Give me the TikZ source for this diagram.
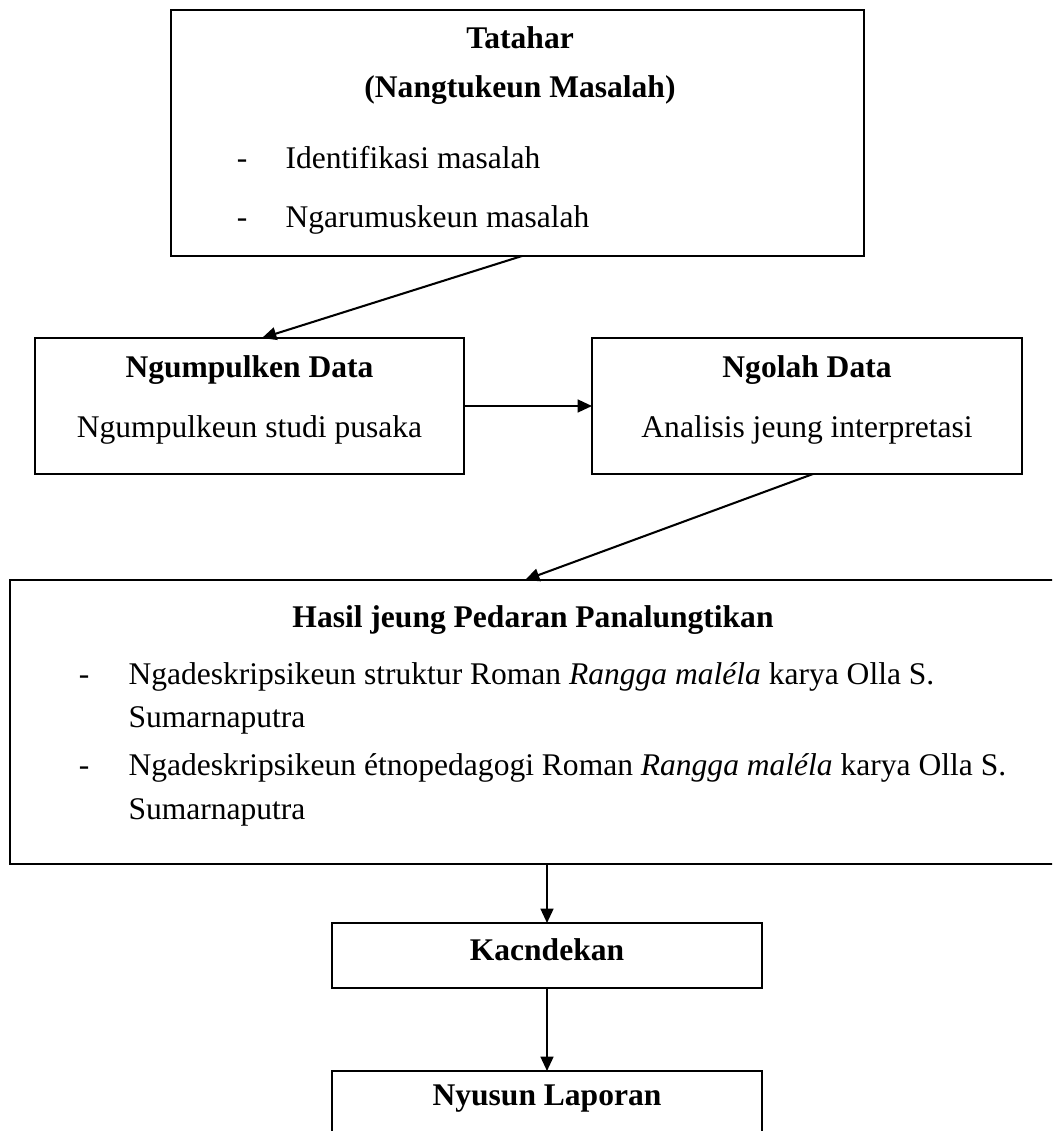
\documentclass[tikz,border=0pt]{standalone}
\usepackage{fontspec}
\setmainfont{Liberation Serif}
\usetikzlibrary{arrows.meta}
\newcommand{\px}{0.39pt}
\tikzset{
  box/.style={draw, line width=0.6pt, inner sep=0pt, outer sep=0pt},
  txt/.style={inner sep=0pt, anchor=mid, font=\fontsize{12.3pt}{14pt}\selectfont},
  ltxt/.style={txt, anchor=mid west},
  arr/.style={-{Triangle[length=5.6pt,width=5pt]}, line width=0.8pt},
}
\begin{document}
\begin{tikzpicture}[x=\px, y=-\px]
   \useasboundingbox (0,0) rectangle (1052,1131);
   \clip (0,0) rectangle (1052,1131);
   % boxes
   \node[box, minimum width=693*\px, minimum height=246*\px] (tatahar) at (517.5,133) {};
   \node[box, minimum width=429*\px, minimum height=136*\px] (ngumpul) at (249.5,406) {};
   \node[box, minimum width=430*\px, minimum height=136*\px] (ngolah) at (807,406) {};
   \node[box, minimum width=1052*\px, minimum height=284*\px] (hasil) at (536,722) {};
   \node[box, minimum width=430*\px, minimum height=65*\px] (kacn) at (547,955.5) {};
   \node[box, minimum width=430*\px, minimum height=79*\px] (nyusun) at (547,1110.5) {};
   % texts
   \node[txt] (t1) at (520,43) {\textbf{Tatahar}};
   \node[txt] (t2) at (520,92) {\textbf{(Nangtukeun Masalah)}};
   \node[txt] (t3) at (242,163) {-};
   \node[ltxt] (t4) at (285,163) {Identifikasi masalah};
   \node[txt] (t5) at (242,222) {-};
   \node[ltxt] (t6) at (285,222) {Ngarumuskeun masalah};
   \node[txt] (n1) at (249.5,372) {\textbf{Ngumpulken Data}};
   \node[txt] (n2) at (249.5,432) {Ngumpulkeun studi pusaka};
   \node[txt] (o1) at (807,372) {\textbf{Ngolah Data}};
   \node[txt] (o2) at (807,432) {Analisis jeung interpretasi};
   \node[txt] (h1) at (533,622) {\textbf{Hasil jeung Pedaran Panalungtikan}};
   \node[txt] (h2) at (84,679) {-};
   \node[ltxt] (h3) at (128,679) {Ngadeskripsikeun struktur Roman \textit{Rangga maléla} karya Olla S.};
   \node[ltxt] (h4) at (128,722) {Sumarnaputra};
   \node[txt] (h5) at (84,770) {-};
   \node[ltxt] (h6) at (128,770) {Ngadeskripsikeun étnopedagogi Roman \textit{Rangga maléla} karya Olla S.};
   \node[ltxt] (h7) at (128,814) {Sumarnaputra};
   \node[txt] (k1) at (547,955) {\textbf{Kacndekan}};
   \node[txt] (l1) at (547,1100) {\textbf{Nyusun Laporan}};
   % arrows
   \draw[arr] ([xshift=4.5*\px]tatahar.south) -- ([xshift=12.5*\px]ngumpul.north);
   \draw[arr] (ngumpul.east) -- (ngolah.west);
   \draw[arr] ([xshift=6*\px]ngolah.south) -- ([xshift=-11*\px]hasil.north);
   \draw[arr] (kacn.north |- hasil.south) -- (kacn.north);
   \draw[arr] (kacn.south) -- (nyusun.north);
\end{tikzpicture}
\end{document}
